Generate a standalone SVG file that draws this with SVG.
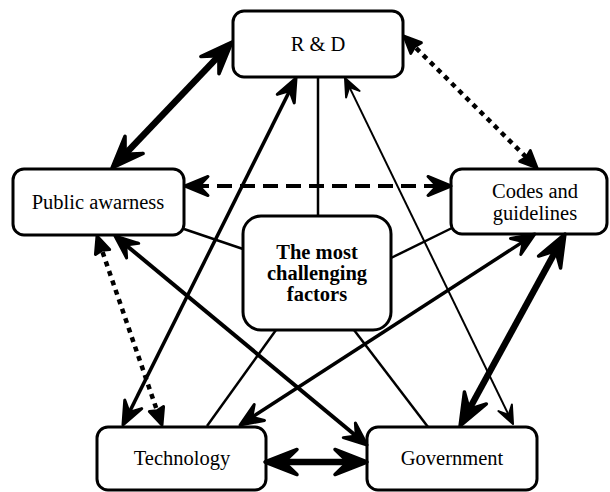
<svg xmlns="http://www.w3.org/2000/svg" width="610" height="492" viewBox="0 0 610 492">
<style>
.box{fill:#fff;stroke:#000;stroke-width:3}
.lbl{font-family:"Liberation Serif","Times New Roman",serif;font-size:20.5px;fill:#000;text-anchor:middle}
.bold{font-weight:bold}
.c{fill:none;stroke:#000;stroke-linecap:butt}
.thick{stroke-width:6.5;marker-start:url(#big);marker-end:url(#big)}
.med{stroke-width:4;marker-start:url(#med);marker-end:url(#med)}
.med3{stroke-width:3.5;marker-start:url(#med);marker-end:url(#med)}
.thin{stroke-width:2;marker-start:url(#small);marker-end:url(#small)}
.dot{stroke-width:4.5;stroke-dasharray:5 5;marker-start:url(#dot);marker-end:url(#dot)}
.dash{stroke-width:4;stroke-dasharray:15 8;marker-start:url(#med);marker-end:url(#med)}
.plain{stroke-width:2.5}
</style>
<defs>
<marker id="big" markerUnits="userSpaceOnUse" orient="auto-start-reverse" refX="0" refY="0" markerWidth="1" markerHeight="1" overflow="visible"><path d="M12,0 L-20,-12.5 L-7,0 L-20,12.5 Z" fill="#000" stroke="#000" stroke-width="3.5" stroke-linejoin="round"/></marker>
<marker id="med" markerUnits="userSpaceOnUse" orient="auto-start-reverse" refX="0" refY="0" markerWidth="1" markerHeight="1" overflow="visible"><path d="M9,0 L-14,-9.5 L-5,0 L-14,9.5 Z" fill="#000" stroke="#000" stroke-width="3" stroke-linejoin="round"/></marker>
<marker id="small" markerUnits="userSpaceOnUse" orient="auto-start-reverse" refX="0" refY="0" markerWidth="1" markerHeight="1" overflow="visible"><path d="M6,0 L-12,-7.5 L-4,0 L-12,7.5 Z" fill="#000" stroke="#000" stroke-width="2" stroke-linejoin="round"/></marker>
<marker id="dot" markerUnits="userSpaceOnUse" orient="auto-start-reverse" refX="0" refY="0" markerWidth="1" markerHeight="1" overflow="visible"><path d="M7,0 L-10,-7.5 L-8,0 L-10,7.5 Z" fill="#000" stroke="#000" stroke-width="3" stroke-linejoin="round"/></marker>
</defs>
<g id="connectors">
<path class="c plain" d="M318,77 L318,216"/>
<path class="c plain" d="M184,229 L243,249"/>
<path class="c plain" d="M391,258 L452,228"/>
<path class="c plain" d="M276,330 L207,426"/>
<path class="c plain" d="M354,330 L428,427"/>
</g>
<g id="node-rd"><rect class="box" x="233" y="11" width="170" height="66" rx="11"/><text class="lbl" x="318" y="51">R &amp; D</text></g>
<g id="node-public"><rect class="box" x="13" y="169" width="171" height="66" rx="11"/><text class="lbl" x="98" y="209">Public awarness</text></g>
<g id="node-codes"><rect class="box" x="451" y="169" width="156" height="65" rx="11"/><text class="lbl" x="535" y="198">Codes and</text><text class="lbl" x="535" y="220">guidelines</text></g>
<g id="node-center"><rect class="box" x="243" y="216" width="148" height="114" rx="18"/><text class="lbl bold" x="317" y="259">The most</text><text class="lbl bold" x="317" y="280">challenging</text><text class="lbl bold" x="317" y="301">factors</text></g>
<g id="node-tech"><rect class="box" x="97" y="427" width="169" height="63" rx="11"/><text class="lbl" x="182" y="465">Technology</text></g>
<g id="node-gov"><rect class="box" x="367" y="427" width="170" height="63" rx="11"/><text class="lbl" x="452" y="465">Government</text></g>
<g id="arrows">
<path class="c thick" d="M223.7,50.7 L120.3,159.3"/>
<path class="c dot" d="M409,41 L532.1,163"/>
<path class="c dash" d="M194,186 L442,186"/>
<path class="c dot" d="M99.3,242.6 L159.7,418.4"/>
<path class="c med3" d="M127,416.9 L292,86.1"/>
<path class="c thin" d="M347.6,83.4 L510.4,418.6"/>
<path class="c med" d="M121.9,241.7 L360.1,439.3"/>
<path class="c med3" d="M527.4,238.9 L247.6,420.1"/>
<path class="c thick" d="M559.2,244.5 L465.8,415.5"/>
<path class="c thick" d="M277,462 L355,462"/>
</g>
</svg>
